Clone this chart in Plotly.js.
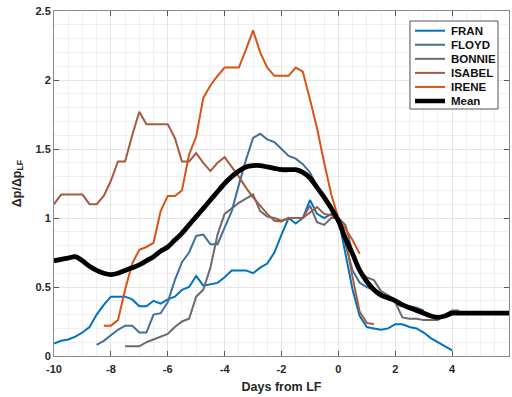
<!DOCTYPE html>
<html><head><meta charset="utf-8">
<script src="https://cdn.plot.ly/plotly-3.0.1.min.js"></script>
<style>html,body{margin:0;padding:0;background:#fff}#chart{width:512px;height:397px}</style>
</head><body><div id="chart"></div>
<script>
const days = [-10,-9.75,-9.5,-9.25,-9,-8.75,-8.5,-8.25,-8,-7.75,-7.5,-7.25,-7,-6.75,-6.5,-6.25,
  -6,-5.75,-5.5,-5.25,-5,-4.75,-4.5,-4.25,-4,-3.75,-3.5,-3.25,-3,-2.75,-2.5,-2.25,
  -2,-1.75,-1.5,-1.25,-1,-0.75,-0.5,-0.25,0,0.25,0.5,0.75,1,1.25,1.5,1.75,
  2,2.25,2.5,2.75,3,3.25,3.5,3.75,4,4.25,4.5,4.75,5,5.25,5.5,5.75,6];
const N = null;
const fran = [0.09,0.11,0.12,0.14, 0.17,0.21,0.30,0.37, 0.43,0.43,0.43,0.41, 0.36,0.36,0.40,0.38,
  0.41,0.43,0.48,0.50, 0.58,0.51,0.52,0.53, 0.57,0.62,0.62,0.62, 0.60,0.64,0.67,0.75,
  0.88,1.00,0.96,1.00, 1.13,1.03,1.00,1.03, 1.00,0.75,0.48,0.29, 0.21,0.20,0.19,0.20,
  0.23,0.23,0.21,0.20, 0.17,0.13,0.10,0.07, 0.04, N,N,N,N,N,N,N,N];
const floyd = [N,N,N,N,N,N, 0.08,0.11, 0.15,0.19,0.22,0.22, 0.17,0.17,0.30,0.31,
  0.39,0.55,0.68,0.75, 0.87,0.88,0.81,0.81, 0.93,1.05,1.24,1.42, 1.58,1.61,1.57,1.55,
  1.50,1.45,1.43,1.39, 1.33,1.23,1.15,1.06, 1.00,0.80,0.62,0.53, 0.50,0.48,0.46,0.44,
  0.41,0.38,0.36,0.35, 0.33, N,N,N,N,N,N,N,N,N,N,N,N];
const bonnie = [N,N,N,N,N,N,N,N,N,N, 0.07,0.07, 0.07,0.10,0.12,0.14,
  0.16,0.21,0.25,0.27, 0.43,0.48,0.64,0.88, 1.03,1.07,1.11,1.14, 1.17,1.05,1.01,1.00,
  0.98,1.00,1.00,1.00, 1.09,0.97,0.95,1.00, 1.00,0.95,0.75,0.61, 0.57,0.55,0.47,0.44,
  0.39,0.28,0.27,0.27, 0.26,0.26,0.26,0.30, 0.33,0.33, N,N,N,N,N,N,N];
const isabel = [1.10,1.17,1.17,1.17, 1.17,1.10,1.10,1.16, 1.27,1.41,1.41,1.60, 1.77,1.68,1.68,1.68,
  1.68,1.58,1.41,1.41, 1.47,1.40,1.34,1.40, 1.44,1.37,1.30,1.22, 1.15,1.09,1.03,0.98,
  0.975,1.00,1.00,1.00, 1.04,1.08,1.03,1.02, 1.00,0.85,0.57,0.32, 0.24,0.23,
  N,N,N,N,N,N,N,N,N,N,N,N,N,N,N,N,N,N,N];
const irene = [N,N,N,N,N,N,N, 0.22, 0.22,0.26,0.48,0.67, 0.77,0.79,0.82,1.05,
  1.16,1.16,1.20,1.46, 1.59,1.87,1.96,2.03, 2.09,2.09,2.09,2.22, 2.36,2.20,2.09,2.03,
  2.03,2.03,2.09,2.06, 1.86,1.65,1.40,1.17, 1.00,0.92,0.84,0.74,
  N,N,N,N,N,N,N,N,N,N,N,N,N,N,N,N,N,N,N,N,N];
const meanVals = [0.69,0.70,0.71,0.72, 0.69,0.65,0.62,0.60, 0.59,0.60,0.62,0.64, 0.66,0.69,0.72,0.76,
  0.79,0.84,0.89,0.95, 1.01,1.07,1.13,1.19, 1.25,1.30,1.34,1.37, 1.38,1.38,1.37,1.36,
  1.35,1.35,1.35,1.33, 1.29,1.22,1.15,1.07, 0.98,0.85,0.74,0.62, 0.54,0.48,0.44,0.42,
  0.40,0.37,0.35,0.33, 0.31,0.29,0.28,0.29, 0.31,0.31,0.31,0.31, 0.31,0.31,0.31,0.31, 0.31];
const seriesNames = ['FRAN','FLOYD','BONNIE','ISABEL','IRENE','Mean'];
const xTickVals = [-10,-8,-6,-4,-2,0,2,4,6];
const xTickText = ['-10','-8','-6','-4','-2','0','2','4','6'];
const yTickVals = [0,0.5,1,1.5,2,2.5];
const yTickText = ['0','0.5','1','1.5','2','2.5'];

const colors = ['#0072BD','#3E6F9F','#6E6870','#A65B3E','#D95319','#000000'];
const widths = [2,2,2,2,2,4.8];
const FONT = 'Liberation Sans, Arial, sans-serif';
const data = [fran,floyd,bonnie,isabel,irene,meanVals].map((v,i)=>({
  x: days, y: v, name: seriesNames[i], type:'scatter', mode:'lines',
  connectgaps:false, showlegend:false,
  line:{color:colors[i], width: widths[i], shape: i===5?'spline':'linear', smoothing: 0.8}
}));

// custom legend box (paper coordinates), matching the compact MATLAB legend
const plotL = 54, plotW = 455, plotB = 356, plotH = 345;
const px = v => (v - plotL) / plotW;
const py = v => (plotB - v) / plotH;
const shapes = [{type:'rect', xref:'paper', yref:'paper', x0:px(410), x1:px(498), y0:py(21), y1:py(109),
  fillcolor:'#fff', line:{color:'#555', width:1}, layer:'above'}];
const annotations = [];
seriesNames.forEach((name,i)=>{
  const yc = 30.7 + 14.06*i;
  shapes.push({type:'line', xref:'paper', yref:'paper', x0:px(415), x1:px(445), y0:py(yc), y1:py(yc),
    line:{color:colors[i], width: i===5?4.5:2}, layer:'above'});
  annotations.push({xref:'paper', yref:'paper', x:px(449), y:py(yc), xanchor:'left', yanchor:'middle',
    text:name, showarrow:false, font:{family:FONT, size:11.5, color:'#111', weight:'bold'}});
});

const axisCommon = {
  showline:true, linecolor:'#8a8a8a', linewidth:1, mirror:'ticks',
  ticks:'inside', ticklen:5, tickcolor:'#555', tickwidth:1,
  showgrid:true, gridcolor:'#e4e4e4', gridwidth:1, zeroline:false,
  tickfont:{family:FONT, size:11, color:'#262626', weight:'bold'}
};
const layout = {
  width:512, height:397,
  margin:{l:54, r:3, t:11, b:41},
  paper_bgcolor:'#fff', plot_bgcolor:'#fff',
  showlegend:false,
  shapes: shapes, annotations: annotations,
  xaxis: Object.assign({}, axisCommon, {
    range:[-10,6], tickvals:xTickVals, ticktext:xTickText, ticklabelstandoff:3,
    minor:{dtick:0.5, showgrid:true, gridcolor:'#efefef', ticks:''},
    title:{text:'Days from LF', standoff:8, font:{family:FONT, size:12.5, color:'#262626', weight:'bold'}}
  }),
  yaxis: Object.assign({}, axisCommon, {
    range:[0,2.5], tickvals:yTickVals, ticktext:yTickText,
    minor:{dtick:0.1, showgrid:true, gridcolor:'#efefef', ticks:''},
    title:{text:'Δp/Δp<sub>LF</sub>', standoff:11, font:{family:FONT, size:12.5, color:'#262626', weight:'bold'}}
  })
};
Plotly.newPlot('chart', data, layout, {displayModeBar:false, staticPlot:true});
</script></body></html>
